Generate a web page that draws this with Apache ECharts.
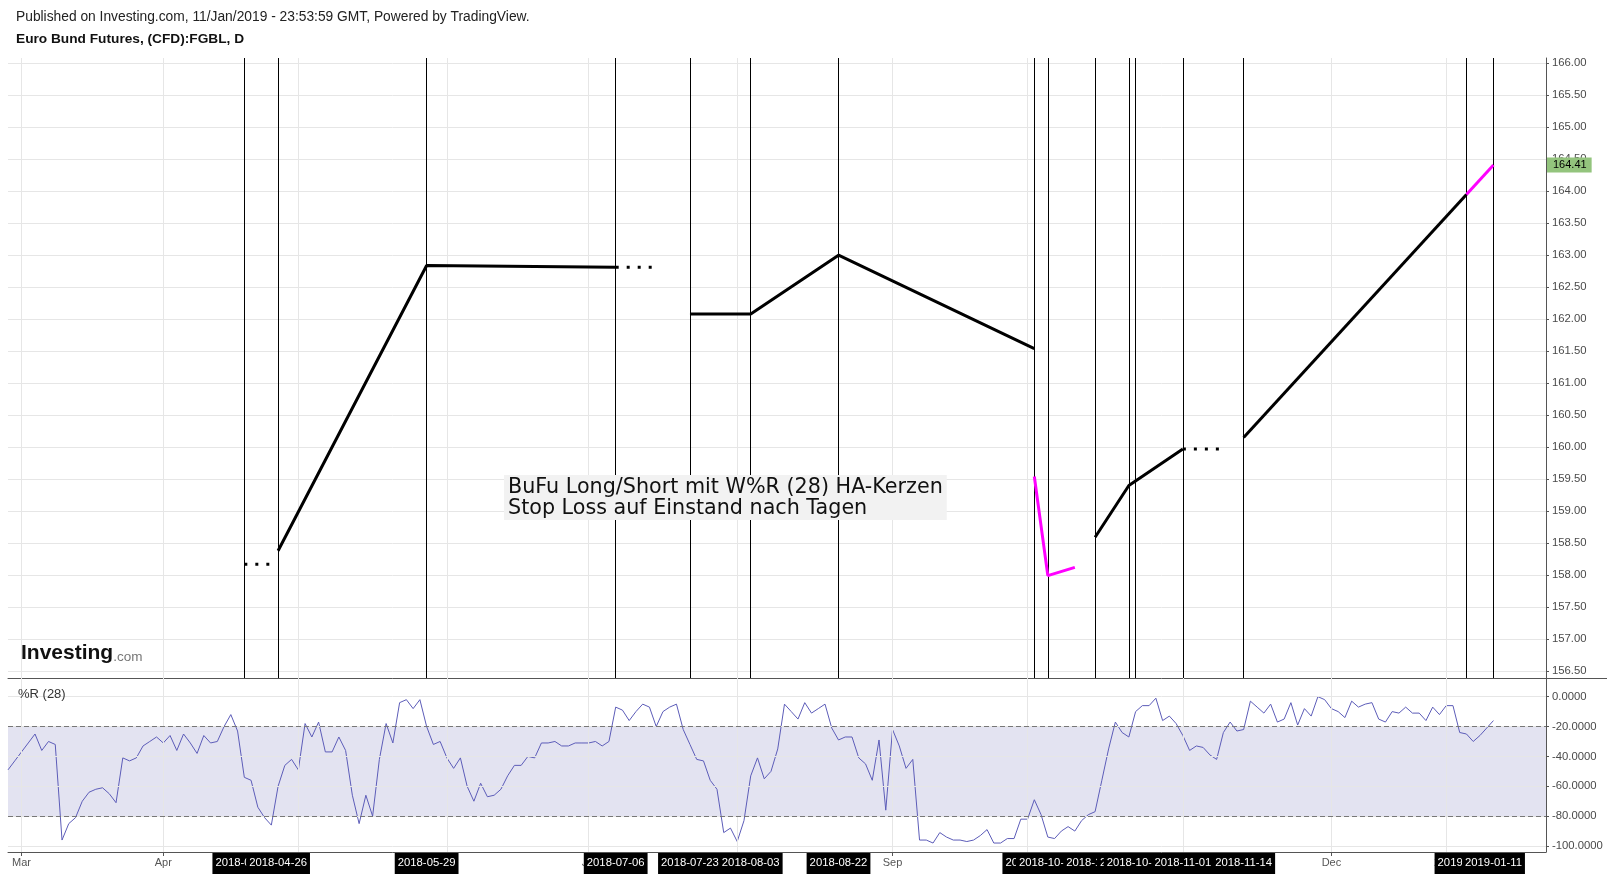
<!DOCTYPE html>
<html><head><meta charset="utf-8">
<script src="https://cdn.jsdelivr.net/npm/echarts@6/dist/echarts.min.js"></script>
<style>html,body{margin:0;padding:0;background:#fff}#c{width:1614px;height:876px}</style>
</head><body><div id="c"></div>
<script>
// ---------- data ----------
const holidays = ['2018-03-30','2018-04-02','2018-05-01','2018-12-24','2018-12-25','2018-12-26','2018-12-31','2019-01-01'];
const dates = [];
for (let t = Date.UTC(2018,1,27); t <= Date.UTC(2019,0,11); t += 86400000) {
  const d = new Date(t), wd = d.getUTCDay(), s = d.toISOString().slice(0,10);
  if (wd !== 0 && wd !== 6 && holidays.indexOf(s) < 0) dates.push(s);
}
const monthNames = ['Jan','Feb','Mar','Apr','May','Jun','Jul','Aug','Sep','Oct','Nov','Dec'];
const wrValues = [
-49,-43,-37,-31,-25,-36,-30,-32,-96,-85,
-81,-70,-64,-62,-61,-65,-71,-41,-43,-41,
-33,-30,-27,-31,-26,-36,-25,-31,-38,-26,
-31,-30,-20,-12,-23,-54,-56,-74,-81,-86,
-60,-46,-42,-49,-18,-27,-17,-37,-37,-27,
-36,-66,-85,-66,-80,-42,-18,-31,-4,-2,
-8,-2,-20,-32,-30,-41,-48,-41,-60,-70,
-58,-67,-66,-62,-53,-46,-46,-40,-41,-31,
-31,-30,-33,-33,-31,-31,-31,-30,-33,-30,
-7,-9,-16,-10,-5,-7,-20,-10,-7,-5,
-22,-32,-42,-43,-56,-62,-91,-88,-97,-83,
-53,-41,-55,-50,-35,-5,-10,-15,-4,-11,
-8,-5,-21,-29,-27,-27,-41,-45,-56,-29,
-76,-22,-33,-48,-42,-96,-96,-98,-91,-94,
-96,-96,-97,-96,-93,-89,-98,-98,-95,-95,
-82,-82,-69,-79,-94,-95,-90,-87,-90,-83,
-79,-77,-56,-35,-17,-24,-27,-10,-6,-6,
-1,-16,-13,-18,-26,-36,-33,-34,-39,-42,
-24,-17,-23,-22,-3,-7,-11,-5,-17,-15,
-4,-19,-8,-13,0,-2,-8,-10,-14,-3,
-7,-5,-4,-15,-17,-10,-11,-7,-11,-11,
-16,-7,-12,-6,-6,-24,-25,-30,-26,-21,
-16];
const signalDates = ['2018-04-19','2018-04-26','2018-05-29','2018-07-06','2018-07-23','2018-08-03','2018-08-22',
  '2018-10-02','2018-10-04','2018-10-15','2018-10-22','2018-10-23','2018-11-01','2018-11-14','2019-01-07','2019-01-11'];
const solidSegments = [
  [['2018-04-26',158.38],['2018-05-29',162.84],['2018-07-06',162.81]],
  [['2018-07-23',162.08],['2018-08-03',162.08],['2018-08-22',163.00],['2018-10-02',161.54]],
  [['2018-10-15',158.59],['2018-10-22',159.40],['2018-11-01',159.97]],
  [['2018-11-14',160.15],['2019-01-07',163.95]]
];
const magentaSegments = [
  [['2018-10-02',159.54],['2018-10-04',157.99],['2018-10-10',158.12]],
  [['2019-01-07',163.95],['2019-01-11',164.41]]
];
const dottedSegments = [
  [['2018-04-19',158.17],['2018-04-25',158.17]],
  [['2018-07-06',162.81],['2018-07-16',162.81]],
  [['2018-11-01',159.97],['2018-11-09',159.97]]
];
const lastPrice = 164.41;
const priceTicks = [156.5,157,157.5,158,158.5,159,159.5,160,160.5,161,161.5,162,162.5,163,163.5,164,164.5,165,165.5,166];
const wrTicks = [0,-20,-40,-60,-80,-100];
const wrBand = [-20,-80];
const headerText = 'Published on Investing.com, 11/Jan/2019 - 23:53:59 GMT, Powered by TradingView.';
const titleText = 'Euro Bund Futures, (CFD):FGBL, D';
const noteLines = ['BuFu Long/Short mit W%R (28) HA-Kerzen','Stop Loss auf Einstand nach Tagen'];

// ---------- build ----------
const idx = d => dates.indexOf(d);
const monthIdx = [], monthLab = {};
dates.forEach((d,i) => {
  if (i > 0 && d.slice(5,7) !== dates[i-1].slice(5,7)) {
    monthIdx.push(i);
    monthLab[i] = d.slice(5,7) === '01' ? d.slice(0,4) : monthNames[+d.slice(5,7)-1];
  }
});
const sigIdx = signalDates.map(idx);
const toXY = seg => seg.map(p => [idx(p[0]), p[1]]);
const xMin = 0, xMax = 227.78;
const FONT = 'Liberation Sans';
const ml = (data, style) => ({silent:true, symbol:'none', label:{show:false}, lineStyle:style, data:data, animation:false, emphasis:{disabled:true}});

const series = [];
series.push({type:'line', xAxisIndex:0, yAxisIndex:0, data:[], z:1,
  markLine: ml(priceTicks.map(v=>({yAxis:v})).concat(monthIdx.map(i=>({xAxis:i}))), {color:'#e6e6e6', width:1, type:'solid'})});
series.push({type:'line', xAxisIndex:1, yAxisIndex:1, data:[], z:1,
  markLine: ml(wrTicks.map(v=>({yAxis:v})).concat(monthIdx.map(i=>({xAxis:i}))), {color:'#e6e6e6', width:1, type:'solid'})});
series.push({type:'line', xAxisIndex:0, yAxisIndex:0, data:[], z:2,
  markLine: ml(sigIdx.map(i=>({xAxis:i})), {color:'#000', width:1, type:'solid'})});
series.push({type:'line', xAxisIndex:1, yAxisIndex:1, z:3, symbol:'none',
  data: wrValues.map((v,i)=>[i,v]),
  lineStyle:{color:'#5c5cb8', width:1},
  markArea:{silent:true, itemStyle:{color:'rgba(100,100,180,0.18)'}, data:[[{yAxis:wrBand[0]},{yAxis:wrBand[1]}]]},
  markLine: ml(wrBand.map(v=>({yAxis:v})), {color:'#777', width:1, type:[5,3]})});
solidSegments.forEach(s => series.push({type:'line', xAxisIndex:0, yAxisIndex:0, z:5, symbol:'none', data:toXY(s),
  lineStyle:{color:'#000', width:3}}));
dottedSegments.forEach(s => series.push({type:'line', xAxisIndex:0, yAxisIndex:0, z:5, symbol:'none', data:toXY(s),
  lineStyle:{color:'#000', width:3, type:[3,8]}}));
magentaSegments.forEach(s => series.push({type:'line', xAxisIndex:0, yAxisIndex:0, z:6, symbol:'none', data:toXY(s),
  lineStyle:{color:'#ff00ff', width:3}}));
// last price tag on the price axis
series.push({type:'line', xAxisIndex:0, yAxisIndex:0, data:[], z:8, clip:false,
  markLine:{silent:true, symbol:'none', lineStyle:{color:'rgba(0,0,0,0)', width:0}, data:[{yAxis:lastPrice}],
    label:{show:true, position:'end', distance:1, formatter:lastPrice.toFixed(2), backgroundColor:'#93c47d',
      color:'#000', padding:[2,5,2,6], fontSize:11, fontFamily:FONT}}});

const xAxes = [
  {type:'value', gridIndex:0, min:xMin, max:xMax, axisLine:{show:true, onZero:false, lineStyle:{color:'#555'}},
    axisTick:{show:false}, axisLabel:{show:false}, splitLine:{show:false}},
  {type:'value', gridIndex:1, min:xMin, max:xMax, position:'bottom', axisLine:{show:true, onZero:false, lineStyle:{color:'#555'}},
    axisTick:{show:true, customValues:monthIdx, length:4, lineStyle:{color:'#555'}},
    axisLabel:{show:true, customValues:monthIdx, formatter:v=>monthLab[v]||'', color:'#555', fontSize:11, margin:4, lineHeight:14,
      showMinLabel:true, showMaxLabel:true},
    splitLine:{show:false}}
];
// one axis per signal date so every tag is drawn, later tags on top of earlier ones
sigIdx.forEach((si,k) => xAxes.push({type:'value', gridIndex:1, min:xMin, max:xMax, position:'bottom', z:5+k,
  axisLine:{show:false, onZero:false},
  axisTick:{show:true, customValues:[si], length:4, lineStyle:{color:'#555'}},
  axisLabel:{show:true, customValues:[si], formatter:v=>dates[Math.round(v)], color:'#fff', backgroundColor:'#000',
    padding:[3,3,4,3], fontSize:11.3, lineHeight:14, margin:1, showMinLabel:true, showMaxLabel:true},
  splitLine:{show:false}}));

const option = {
  animation:false,
  textStyle:{fontFamily:FONT},
  grid:[
    {left:8, right:68, top:58, height:620},
    {left:8, right:68, top:678, height:174}
  ],
  xAxis: xAxes,
  yAxis:[
    {type:'value', gridIndex:0, position:'right', min:156.39, max:166.083,
      axisLine:{show:true, onZero:false, lineStyle:{color:'#555'}},
      axisTick:{show:true, customValues:priceTicks, length:3, lineStyle:{color:'#555'}},
      axisLabel:{customValues:priceTicks, formatter:v=>v.toFixed(2), color:'#4a4a4a', fontSize:11.3, margin:6,
        showMinLabel:true, showMaxLabel:true},
      splitLine:{show:false}},
    {type:'value', gridIndex:1, position:'right', min:-104, max:12.5,
      axisLine:{show:true, onZero:false, lineStyle:{color:'#555'}},
      axisTick:{show:true, customValues:wrTicks, length:3, lineStyle:{color:'#555'}},
      axisLabel:{customValues:wrTicks, formatter:v=>v.toFixed(4), color:'#4a4a4a', fontSize:11.3, margin:6,
        showMinLabel:true, showMaxLabel:true},
      splitLine:{show:false}}
  ],
  series: series,
  graphic:[
    {type:'text', left:16, top:10, z:10, style:{text:headerText, font:'13.8px "Liberation Sans"', fill:'#222'}},
    {type:'text', left:16, top:32, z:10, style:{text:titleText, font:'bold 13.7px "Liberation Sans"', fill:'#111'}},
    {type:'text', left:18, top:688, z:10, style:{text:'%R (28)', font:'13px "Liberation Sans"', fill:'#333'}},
    {type:'text', left:21, top:643, z:10, style:{text:'{a|Investing}{b|.com}',
      rich:{a:{fontSize:21, fontWeight:'bold', fontFamily:FONT, fill:'#111', verticalAlign:'bottom', lineHeight:22},
            b:{fontSize:13.5, fontFamily:FONT, fill:'#777', verticalAlign:'bottom', lineHeight:19}}}},
    {type:'text', left:504, top:475, z:10, style:{text:noteLines.join('\n'), font:'20.7px "DejaVu Sans"', lineHeight:21,
      fill:'#111', backgroundColor:'#f2f2f2', padding:[2,4,1,4]}},
    {type:'line', z:10, shape:{x1:1546, y1:678.5, x2:1607, y2:678.5}, style:{stroke:'#555', lineWidth:1}}
  ]
};
const chart = echarts.init(document.getElementById('c'), null, {renderer:'canvas'});
chart.setOption(option);
</script></body></html>
